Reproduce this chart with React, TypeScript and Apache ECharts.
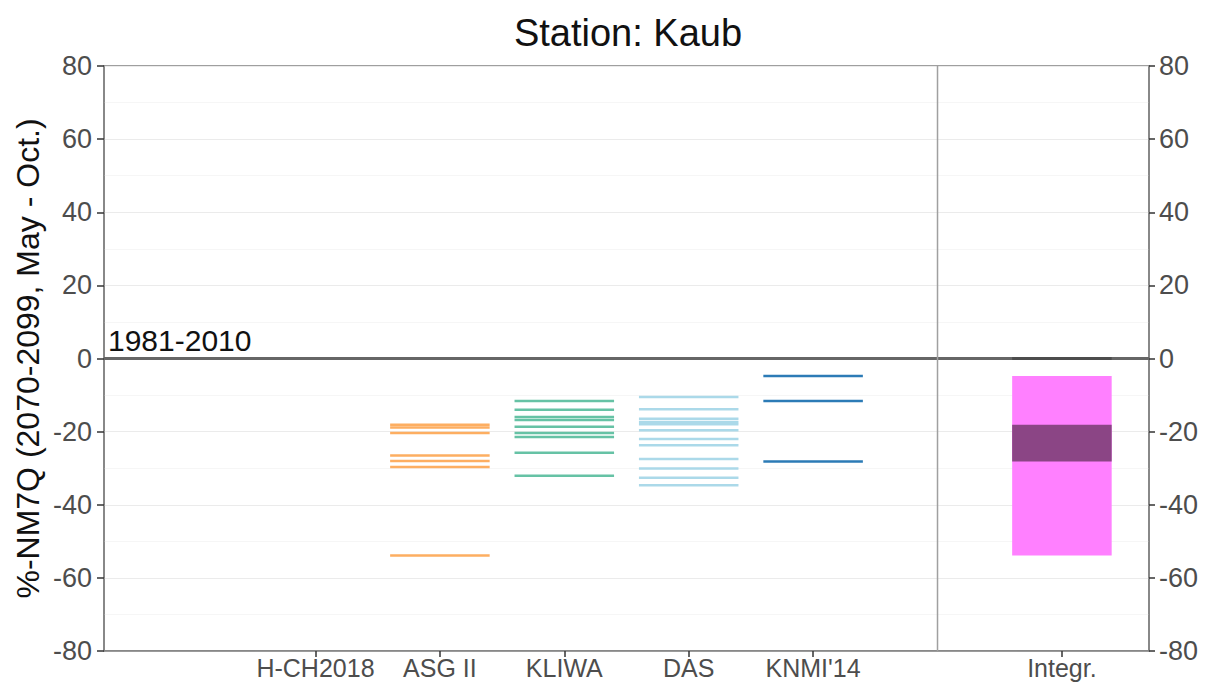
import React, { useEffect, useRef } from "react";
import * as echarts from "echarts";

// Projected change of NM7Q per model chain, low-flow season May - Oct., 2070-2099 vs. 1981-2010
const modelNames = ["H-CH2018", "ASG II", "KLIWA", "DAS", "KNMI'14"];
const modelPos = [1, 2, 3, 4, 5];
const integrName = "Integr.";
const integrPos = 7;
const dividerPos = 6;

const hch2018: number[] = [];
const asgII = [-18.1, -18.9, -20.4, -26.5, -28.0, -29.7, -53.9];
const kliwa = [-11.6, -14.0, -16.0, -16.8, -18.7, -20.4, -21.5, -25.8, -32.1];
const das = [-10.5, -13.9, -16.5, -17.4, -18.0, -19.6, -22.0, -23.7, -27.5, -30.1, -32.6, -34.7];
const knmi14 = [-4.8, -11.6, -28.2];

const modelValues = [hch2018, asgII, kliwa, das, knmi14];
const modelColors = ["#d7191c", "#fdae61", "#66c2a5", "#abd9e9", "#2c7bb6"];

const yTicks = [-80, -60, -40, -20, 0, 20, 40, 60, 80];
const refLabel = "1981-2010";

const FONT = "'Liberation Sans', Arial, Helvetica, sans-serif";
const HALF = 0.4;
const X_MIN = -0.7;
const X_MAX = 7.7;

export default function App() {
  const ref = useRef<HTMLDivElement>(null);

  useEffect(() => {
    if (!ref.current) return;
    const chart = echarts.init(ref.current, undefined, { renderer: "svg" });

    const nonEmpty = modelValues.filter((v) => v.length > 0);
    const allVals = nonEmpty.flat();
    const outerLo = Math.min(...allVals);
    const outerHi = Math.max(...allVals);
    const innerLo = Math.max(...nonEmpty.map((v) => Math.min(...v)));
    const innerHi = Math.min(...nonEmpty.map((v) => Math.max(...v)));

    const labelFor = (v: number) => {
      const i = modelPos.indexOf(v);
      if (i >= 0) return modelNames[i];
      if (v === integrPos) return integrName;
      return "";
    };

    const segmentSeries = modelValues.map((vals, i) => ({
      type: "custom",
      name: modelNames[i],
      xAxisIndex: 0,
      yAxisIndex: 0,
      data: vals.map((v) => [modelPos[i], v]),
      z: 5,
      renderItem: (_p: any, api: any) => {
        const x = api.value(0);
        const v = api.value(1);
        const a = api.coord([x - HALF, v]);
        const b = api.coord([x + HALF, v]);
        return {
          type: "line",
          shape: { x1: a[0], y1: a[1], x2: b[0], y2: b[1] },
          style: { stroke: modelColors[i], lineWidth: 2.5 },
        };
      },
    }));

    const boxSeries = {
      type: "custom",
      name: integrName,
      xAxisIndex: 0,
      yAxisIndex: 0,
      encode: { x: 0, y: [1, 2] },
      data: [
        [integrPos, outerLo, outerHi, 0],
        [integrPos, innerLo, innerHi, 1],
      ],
      z: 4,
      renderItem: (_p: any, api: any) => {
        const x = api.value(0);
        const p1 = api.coord([x - HALF, api.value(2)]);
        const p2 = api.coord([x + HALF, api.value(1)]);
        return {
          type: "rect",
          shape: { x: p1[0], y: p1[1], width: p2[0] - p1[0], height: p2[1] - p1[1] },
          style: { fill: api.value(3) === 1 ? "#8b4585" : "#ff80ff" },
        };
      },
    };

    const option: any = {
      animation: false,
      backgroundColor: "#ffffff",
      title: {
        text: "Station: Kaub",
        left: 623,
        top: 9,
        textAlign: "center",
        textStyle: { fontFamily: FONT, fontSize: 38, fontWeight: "normal", color: "#111111" },
      },
      grid: {
        left: 104,
        right: 61,
        top: 66,
        bottom: 32,
        show: true,
        borderColor: "#808080",
        borderWidth: 1.5,
        backgroundColor: "transparent",
      },
      xAxis: [
        {
          type: "value",
          min: X_MIN,
          max: X_MAX,
          splitLine: { show: false },
          axisLine: { show: true, onZero: false, lineStyle: { color: "#808080", width: 1.5 } },
          axisTick: {
            show: true,
            length: 6,
            customValues: [...modelPos, integrPos],
            lineStyle: { color: "#333333", width: 1.5 },
          },
          axisLabel: {
            customValues: [...modelPos, integrPos],
            formatter: (v: number) => labelFor(v),
            fontFamily: FONT,
            fontSize: 25,
            lineHeight: 26,
            color: "#4d4d4d",
            margin: 4,
          },
        },
      ],
      yAxis: [
        {
          type: "value",
          position: "left",
          min: -80,
          max: 80,
          interval: 20,
          axisLine: { show: true, onZero: false, lineStyle: { color: "#808080", width: 1.5 } },
          axisTick: { show: true, length: 7, lineStyle: { color: "#333333", width: 1.5 } },
          axisLabel: {
            fontFamily: FONT,
            fontSize: 27,
            color: "#4d4d4d",
            margin: 12,
            customValues: yTicks,
          },
          splitLine: { show: true, lineStyle: { color: "#ebebeb", width: 1.2 } },
          minorTick: { show: false, splitNumber: 2 },
          minorSplitLine: { show: true, lineStyle: { color: "#f4f4f4", width: 0.8 } },
        },
        {
          type: "value",
          position: "right",
          min: -80,
          max: 80,
          interval: 20,
          axisLine: { show: true, onZero: false, lineStyle: { color: "#808080", width: 1.5 } },
          axisTick: { show: true, length: 6, lineStyle: { color: "#333333", width: 1.5 } },
          axisLabel: {
            fontFamily: FONT,
            fontSize: 27,
            color: "#4d4d4d",
            margin: 10,
          },
          splitLine: { show: false },
        },
      ],
      series: [
        // reference line at 0 % change
        {
          type: "line",
          data: [
            [X_MIN, 0],
            [X_MAX, 0],
          ],
          symbol: "none",
          silent: true,
          z: 3,
          lineStyle: { color: "#666666", width: 3 },
        },
        // zero-width band of the integrated range on the reference line
        {
          type: "line",
          data: [
            [integrPos - HALF, 0],
            [integrPos + HALF, 0],
          ],
          symbol: "none",
          silent: true,
          z: 3,
          lineStyle: { color: "#4d4d4d", width: 3 },
        },
        // separator between single models and the integrated range
        {
          type: "line",
          data: [
            [dividerPos, -80],
            [dividerPos, 80],
          ],
          symbol: "none",
          silent: true,
          z: 3,
          lineStyle: { color: "#a0a0a0", width: 1.5 },
        },
        // label of the reference period
        {
          type: "custom",
          data: [[X_MIN, 0]],
          z: 6,
          renderItem: (_p: any, api: any) => {
            const p = api.coord([api.value(0), api.value(1)]);
            return {
              type: "text",
              x: p[0] + 4,
              y: p[1] - 3,
              style: {
                text: refLabel,
                font: `30px ${FONT}`,
                fill: "#111111",
                textAlign: "left",
                textVerticalAlign: "bottom",
              },
            };
          },
        },
        ...segmentSeries,
        boxSeries,
      ],
      graphic: [
        {
          type: "text",
          x: 28,
          y: 358.5,
          rotation: Math.PI / 2,
          style: {
            text: "%-NM7Q (2070-2099, May - Oct.)",
            font: `32px ${FONT}`,
            fill: "#111111",
            textAlign: "center",
            textVerticalAlign: "middle",
          },
        },
      ],
    };

    chart.setOption(option);
    return () => chart.dispose();
  }, []);

  return (
    <div
      ref={ref}
      style={{ position: "fixed", left: 0, top: 0, width: 1210, height: 683, background: "#fff" }}
    />
  );
}
